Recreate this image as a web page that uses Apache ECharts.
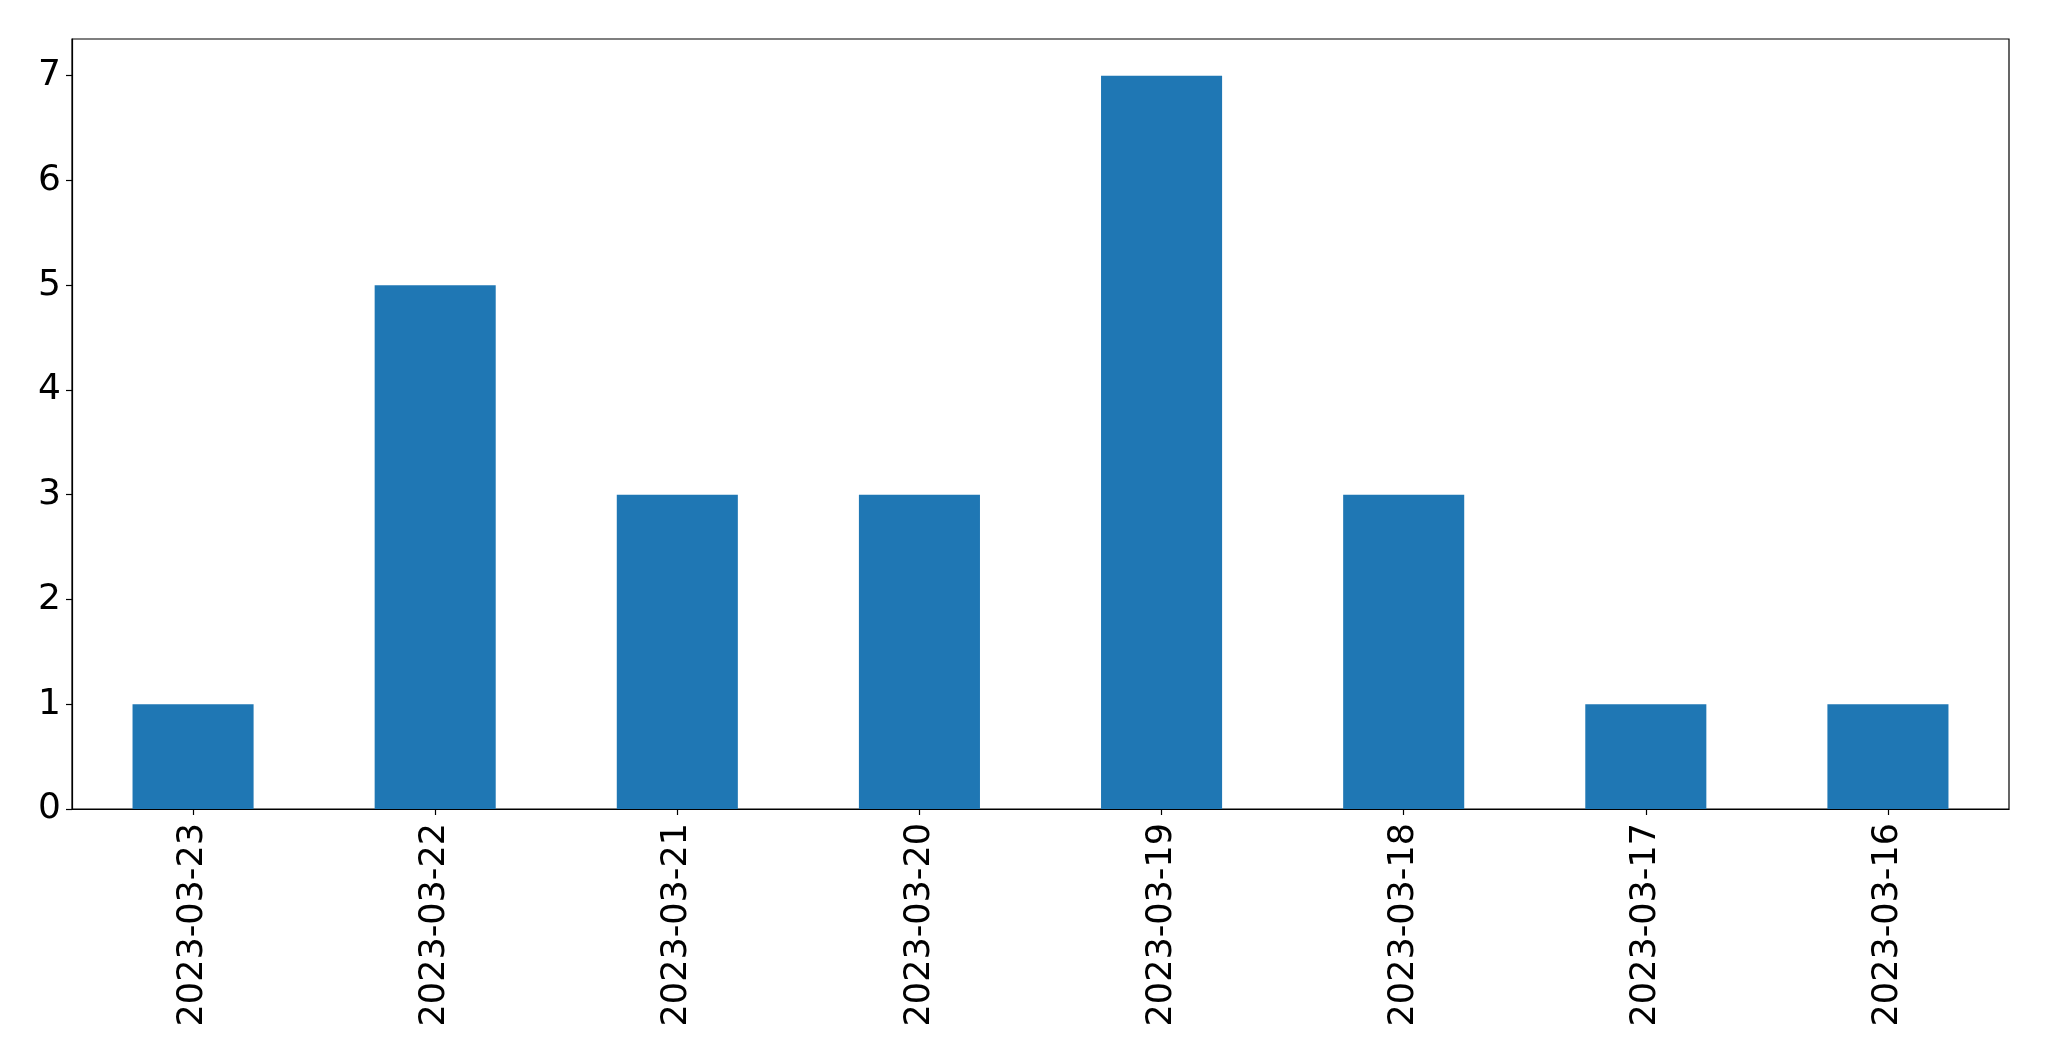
<!DOCTYPE html>
<html>
<head>
<meta charset="utf-8">
<script src="https://cdn.jsdelivr.net/npm/echarts@6/dist/echarts.min.js"></script>
<style>
html,body{margin:0;padding:0;background:#fff;}
#chart{width:2049px;height:1061px;}
</style>
</head>
<body>
<div id="chart"></div>
<script>
const categories = ['2023-03-23','2023-03-22','2023-03-21','2023-03-20','2023-03-19','2023-03-18','2023-03-17','2023-03-16'];
const counts = [1, 5, 3, 3, 7, 3, 1, 1];
const yTicks = [0, 1, 2, 3, 4, 5, 6, 7];

const chart = echarts.init(document.getElementById('chart'), null, {renderer: 'canvas'});
const font = 'DejaVu Sans';
chart.setOption({
  animation: false,
  backgroundColor: '#ffffff',
  grid: {left: 72, right: 40, top: 39, bottom: 252, containLabel: false, show: true, borderColor: '#000', borderWidth: 1.2, backgroundColor: 'transparent'},
  xAxis: {
    type: 'category',
    data: categories,
    boundaryGap: true,
    axisLine: {show: true, lineStyle: {color: '#000', width: 1.2}},
    axisTick: {show: true, alignWithLabel: true, length: 6, lineStyle: {color: '#000', width: 1.2}},
    axisLabel: {rotate: 90, margin: 14, color: '#000', fontSize: 35, fontFamily: font, interval: 0},
    splitLine: {show: false}
  },
  yAxis: {
    type: 'value',
    min: 0,
    max: 7.35,
    interval: 1,
    axisLine: {show: true, lineStyle: {color: '#000', width: 1.2}},
    axisTick: {show: true, length: 6, lineStyle: {color: '#000', width: 1.2}},
    axisLabel: {margin: 11, color: '#000', fontSize: 36, fontFamily: font, showMaxLabel: false,
      formatter: v => yTicks.includes(v) ? String(v) : ''},
    splitLine: {show: false}
  },
  series: [{
    type: 'bar',
    data: counts,
    barWidth: '50%',
    itemStyle: {color: '#1f77b4'}
  }]
});
</script>
</body>
</html>
